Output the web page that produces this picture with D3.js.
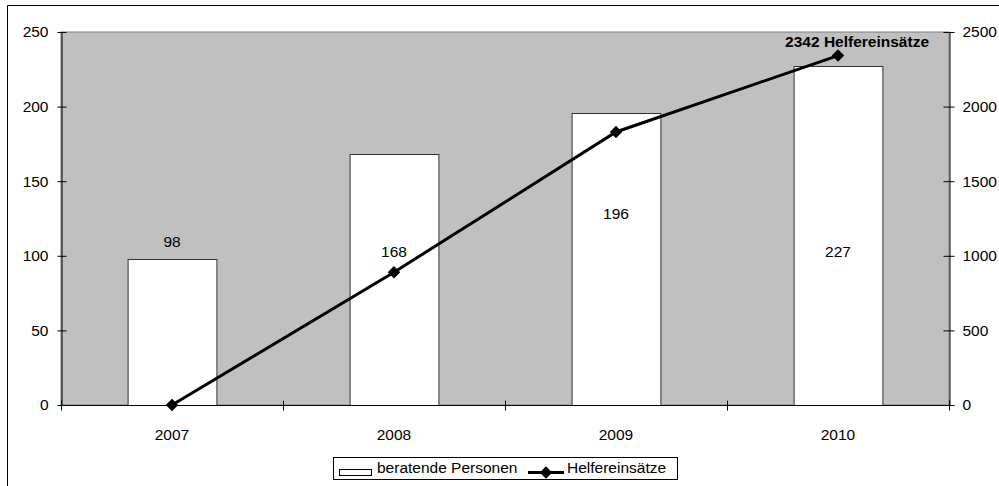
<!DOCTYPE html>
<html><head><meta charset="utf-8">
<script src="https://cdn.jsdelivr.net/npm/d3@7"></script>
<style>body{margin:0;background:#fff}svg{display:block}text{font-family:"Liberation Sans",Arial,sans-serif}</style>
</head><body>
<script>
const years = ["2007","2008","2009","2010"];
const beratendePersonen = [98,168,196,227];
const helfereinsaetze = [0,890,1830,2342];
const leftTicks = [0,50,100,150,200,250];
const rightTicks = [0,500,1000,1500,2000,2500];
const barLabelAnchor = [null,99,125,99]; // in left-axis units; null = above bar

const FS=15.5;
const W=999,H=486;
const m={l:61,r:50,t:32,b:81};
const svg=d3.select("body").append("svg").attr("width",W).attr("height",H);
svg.append("path").attr("d",`M7.5,${H}V5.5H${W}`).attr("fill","none").attr("stroke","#000").attr("stroke-width",1);

const x=d3.scaleBand().domain(years).range([m.l,W-m.r]).paddingInner(0).paddingOuter(0);
const yL=d3.scaleLinear().domain([0,250]).range([H-m.b,m.t]);
const yR=d3.scaleLinear().domain([0,2500]).range([H-m.b,m.t]);
const x0=m.l,x1=W-m.r,yb=H-m.b,yt=m.t;

svg.append("rect").attr("x",x0).attr("y",yt).attr("width",x1-x0).attr("height",yb-yt).attr("fill","#c0c0c0").attr("stroke","#808080");

const bw=x.bandwidth()*0.4;
svg.selectAll(".bar").data(years).join("rect")
  .attr("x",d=>x(d)+x.bandwidth()/2-bw/2+0.5).attr("y",(d,i)=>Math.round(yL(beratendePersonen[i]))+0.5)
  .attr("width",bw).attr("height",(d,i)=>yb-Math.round(yL(beratendePersonen[i])))
  .attr("fill","#fff").attr("stroke","#333").attr("stroke-width",1);

// axes
const axL=d3.axisLeft(yL).tickValues(leftTicks).tickFormat(d3.format("d")).tickSizeInner(4).tickSizeOuter(0).tickPadding(9);
const gL=svg.append("g").attr("transform",`translate(${x0+0.5},0)`).call(axL);
gL.selectAll(".tick line").attr("x1",5);
const axR=d3.axisRight(yR).tickValues(rightTicks).tickFormat(d3.format("d")).tickSizeInner(5).tickSizeOuter(0).tickPadding(8);
const gR=svg.append("g").attr("transform",`translate(${x1+0.5},0)`).call(axR);
gR.selectAll(".tick line").attr("x1",-6);
[gL,gR].forEach(g=>{g.select(".domain").attr("stroke","#000");g.selectAll("text").attr("font-size",FS).attr("fill","#000").style("font-family","'Liberation Sans',Arial,sans-serif");});

const gB=svg.append("g").attr("transform",`translate(0,${yb+0.5})`);
gB.append("line").attr("x1",x0).attr("x2",x1).attr("stroke","#000");
const bounds=years.map(d=>x(d)).concat([x1]);
gB.selectAll(".bt").data(bounds).join("line").attr("x1",d=>Math.round(d)+0.5).attr("x2",d=>Math.round(d)+0.5).attr("y1",-5).attr("y2",5).attr("stroke","#000");
gB.selectAll(".bl").data(years).join("text").attr("x",d=>x(d)+x.bandwidth()/2).attr("y",34).attr("text-anchor","middle").attr("font-size",FS).text(d=>d);

// bar labels
svg.selectAll(".blab").data(years).join("text")
  .attr("x",d=>x(d)+x.bandwidth()/2)
  .attr("y",(d,i)=>barLabelAnchor[i]==null? yL(beratendePersonen[i])-12 : yL(barLabelAnchor[i]))
  .attr("text-anchor","middle").attr("font-size",FS).text((d,i)=>beratendePersonen[i]);

// line
const line=d3.line().x((d,i)=>x(years[i])+x.bandwidth()/2).y(d=>yR(d));
svg.append("path").datum(helfereinsaetze).attr("d",line).attr("fill","none").attr("stroke","#000").attr("stroke-width",3);
const diamond=d3.symbol().type(d3.symbolDiamond2).size(100);
svg.selectAll(".mk").data(helfereinsaetze).join("path")
  .attr("transform",(d,i)=>`translate(${x(years[i])+x.bandwidth()/2},${yR(d)})`).attr("d",diamond).attr("fill","#000");
svg.append("text").attr("x",x(years[3])+x.bandwidth()/2+91).attr("y",yR(helfereinsaetze[3])-9)
  .attr("text-anchor","end").attr("font-size",FS).attr("font-weight","bold").text(helfereinsaetze[3]+" Helfereinsätze");

// legend
const lg=svg.append("g");
lg.append("rect").attr("x",333.5).attr("y",457.5).attr("width",344).attr("height",22).attr("fill","#fff").attr("stroke","#000");
lg.append("rect").attr("x",339.5).attr("y",469.5).attr("width",32).attr("height",6).attr("fill","#fff").attr("stroke","#000");
lg.append("text").attr("x",377).attr("y",469).attr("font-size",FS).attr("dominant-baseline","middle").text("beratende Personen");
lg.append("line").attr("x1",528).attr("x2",564).attr("y1",472.5).attr("y2",472.5).attr("stroke","#000").attr("stroke-width",3);
lg.append("path").attr("transform","translate(546,472.5)").attr("d",diamond).attr("fill","#000");
lg.append("text").attr("x",567).attr("y",469).attr("font-size",FS).attr("dominant-baseline","middle").text("Helfereinsätze");
</script>
</body></html>
